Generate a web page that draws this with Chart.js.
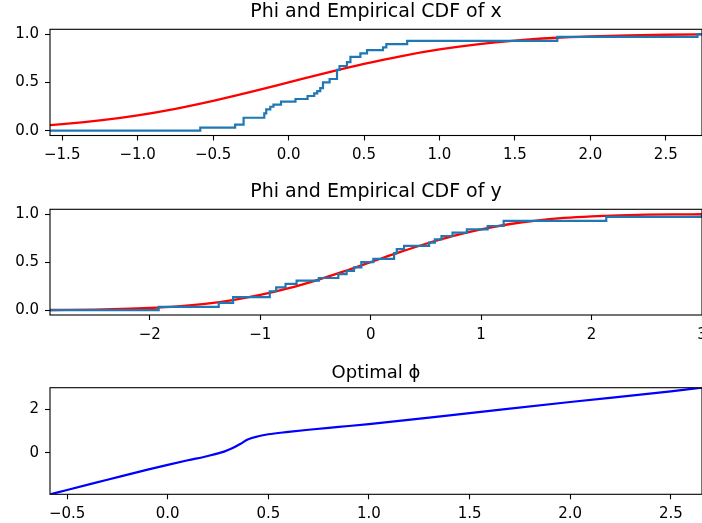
<!DOCTYPE html>
<html><head><meta charset="utf-8">
<script src="https://cdn.jsdelivr.net/npm/chart.js@4.4.0/dist/chart.umd.min.js"></script>
<style>
html,body{margin:0;padding:0;background:#fff;overflow:hidden;width:702px;height:523px;}
canvas{position:absolute;left:0;}
</style></head><body>
<canvas id="c1" width="712" height="170" style="top:0px"></canvas>
<canvas id="c2" width="712" height="170" style="top:180px"></canvas>
<canvas id="c3" width="712" height="165" style="top:358px"></canvas>
<script>
// ---- data ----
const titles = ["Phi and Empirical CDF of x", "Phi and Empirical CDF of y", "Optimal ϕ"];

// standard normal CDF (red curve), read at x step 0.25
const phiX = [-3,-2.75,-2.5,-2.25,-2,-1.75,-1.5,-1.25,-1,-0.75,-0.5,-0.25,0,0.25,0.5,0.75,1,1.25,1.5,1.75,2,2.25,2.5,2.75,3];
const phiY = [0.0013,0.003,0.0062,0.0122,0.0228,0.0401,0.0668,0.1056,0.1587,0.2266,0.3085,0.4013,0.5,0.5987,0.6915,0.7734,0.8413,0.8944,0.9332,0.9599,0.9772,0.9878,0.9938,0.997,0.9987];

// empirical CDF of x (step positions and levels)
const ecdfXx = [-1.65,-0.585,-0.354,-0.298,-0.161,-0.148,-0.121,-0.100,-0.050,0.046,0.126,0.170,0.190,0.210,0.228,0.272,0.321,0.338,0.387,0.410,0.476,0.520,0.626,0.648,0.786,1.781,2.710,2.80];
const ecdfXy = [0,0.031,0.062,0.134,0.180,0.220,0.248,0.270,0.300,0.328,0.359,0.387,0.410,0.440,0.500,0.535,0.630,0.670,0.710,0.765,0.800,0.834,0.862,0.897,0.930,0.972,1.000,1.000];

// empirical CDF of y
const ecdfYx = [-3.0,-1.920,-1.376,-1.246,-0.914,-0.856,-0.771,-0.671,-0.469,-0.293,-0.218,-0.151,-0.085,0.024,0.212,0.236,0.302,0.529,0.581,0.641,0.741,0.871,1.059,1.204,2.133,3.0,3.1];
const ecdfYy = [0,0.035,0.076,0.135,0.197,0.238,0.273,0.307,0.335,0.376,0.410,0.445,0.500,0.535,0.593,0.635,0.669,0.703,0.738,0.772,0.807,0.842,0.876,0.930,0.972,1.000,1.000];

// optimal phi
const optX = [-0.585,-0.5,-0.3,-0.1,0.0,0.1,0.2,0.28,0.32,0.36,0.40,0.45,0.5,0.6,0.7,0.85,1.0,1.5,2.0,2.5,2.655];
const optY = [-1.92,-1.72,-1.25,-0.78,-0.56,-0.35,-0.15,0.05,0.20,0.40,0.62,0.76,0.85,0.96,1.06,1.19,1.32,1.83,2.34,2.83,3.0];

// ticks
const x1Ticks = [-1.5,-1.0,-0.5,0.0,0.5,1.0,1.5,2.0,2.5];
const x1Labels = ["\u22121.5","\u22121.0","\u22120.5","0.0","0.5","1.0","1.5","2.0","2.5"];
const x2Ticks = [-2,-1,0,1,2,3];
const x2Labels = ["\u22122","\u22121","0","1","2","3"];
const x3Ticks = [-0.5,0.0,0.5,1.0,1.5,2.0,2.5];
const x3Labels = ["\u22120.5","0.0","0.5","1.0","1.5","2.0","2.5"];
const cdfYTicks = [0.0,0.5,1.0];
const cdfYLabels = ["0.0","0.5","1.0"];
const optYTicks = [0,2];
const optYLabels = ["0","2"];

// ---- drawing ----
const FONT = "DejaVu Sans";
const pts = (xs, ys) => xs.map((x, i) => ({x: x, y: ys[i]}));

const framePlugin = {
  id: 'frame',
  afterDatasetsDraw(chart) {
    const a = chart.chartArea, ctx = chart.ctx;
    ctx.save();
    ctx.strokeStyle = '#000';
    ctx.lineWidth = 1.1;
    ctx.strokeRect(a.left, a.top, a.right - a.left, a.bottom - a.top);
    ctx.restore();
  }
};

function axis(min, max, ticks, labels, isX, size) {
  return {
    type: 'linear', min: min, max: max,
    afterBuildTicks: s => { s.ticks = ticks.map(v => ({value: v})); },
    ticks: {
      callback: (v, i) => labels[i],
      font: {family: FONT, size: 15}, color: '#000',
      padding: 6, maxRotation: 0, autoSkip: false
    },
    grid: {drawOnChartArea: false, drawTicks: true, tickLength: 5, tickColor: '#000', tickWidth: 1.1},
    border: {display: false},
    afterFit: s => {
      if (isX) { s.height = size; s.paddingLeft = 0; s.paddingRight = 0; }
      else { s.width = size; s.paddingTop = 0; s.paddingBottom = 0; }
    }
  };
}

function make(id, datasets, xr, xt, xl, yr, yt, yl, title, tsize, tpad, xh) {
  new Chart(document.getElementById(id), {
    type: 'line',
    data: {datasets: datasets},
    options: {
      responsive: false, animation: false, devicePixelRatio: 1,
      layout: {padding: {left: 0, right: 10, top: 0, bottom: 0}},
      plugins: {
        legend: {display: false}, tooltip: {enabled: false},
        title: {display: true, text: title, color: '#000', fullSize: false,
                font: {family: FONT, size: tsize, weight: 'normal'}, padding: tpad}
      },
      elements: {point: {radius: 0}},
      scales: {
        x: axis(xr[0], xr[1], xt, xl, true, xh),
        y: axis(yr[0], yr[1], yt, yl, false, 50)
      }
    },
    plugins: [framePlugin]
  });
}

const blue = '#1f77b4', red = '#ff0000';

make('c1', [
  {data: pts(ecdfXx, ecdfXy), borderColor: blue, borderWidth: 2.2, stepped: true, fill: false},
  {data: pts(phiX, phiY), borderColor: red, borderWidth: 2.3, cubicInterpolationMode: 'monotone', fill: false}
], [-1.581, 2.74], x1Ticks, x1Labels, [-0.05, 1.05], cdfYTicks, cdfYLabels, titles[0], 19, {top: 1, bottom: 5.5}, 34.5);

make('c2', [
  {data: pts(ecdfYx, ecdfYy), borderColor: blue, borderWidth: 2.2, stepped: true, fill: false},
  {data: pts(phiX, phiY), borderColor: red, borderWidth: 2.3, cubicInterpolationMode: 'monotone', fill: false}
], [-2.904, 3.0], x2Ticks, x2Labels, [-0.05, 1.05], cdfYTicks, cdfYLabels, titles[1], 19, {top: 1, bottom: 5.5}, 35);

make('c3', [
  {data: pts(optX, optY), borderColor: '#0000ff', borderWidth: 2.2, cubicInterpolationMode: 'monotone', fill: false}
], [-0.585, 2.655], x3Ticks, x3Labels, [-1.92, 3.0], optYTicks, optYLabels, titles[2], 18, {top: 4.5, bottom: 3.6}, 28.7);
</script>
</body></html>
